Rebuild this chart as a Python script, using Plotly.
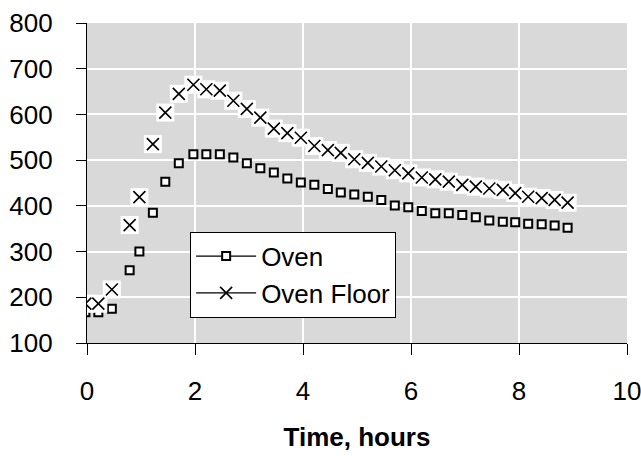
import plotly.graph_objects as go

time_h = [-0.03, 0.21, 0.46, 0.79, 0.97, 1.22, 1.45, 1.70, 1.97, 2.21, 2.46, 2.71,
          2.96, 3.21, 3.46, 3.71, 3.96, 4.21, 4.46, 4.70, 4.95, 5.20, 5.45, 5.70,
          5.95, 6.20, 6.45, 6.70, 6.95, 7.20, 7.45, 7.70, 7.93, 8.17, 8.42, 8.66, 8.90]

oven = [167, 167, 175, 259, 300, 385, 453, 493, 513, 513, 513, 506, 493, 482, 473,
        460, 451, 446, 437, 429, 425, 420, 413, 401, 397, 389, 384, 384, 380, 375,
        368, 365, 364, 361, 360, 357, 352]

oven_floor = [186, 186, 217, 358, 419, 535, 604, 645, 665, 655, 652, 630, 612, 593,
              569, 559, 549, 531, 522, 516, 502, 494, 486, 478, 471, 462, 458, 453,
              446, 442, 438, 435, 428, 420, 417, 413, 407]

x_ticks = [0, 2, 4, 6, 8, 10]
y_ticks = [100, 200, 300, 400, 500, 600, 700, 800]

FONT = "Liberation Sans, Arial, sans-serif"
FS = 26

SQ = dict(symbol="square", size=8, color="white", line=dict(color="black", width=2))
XM = dict(symbol="x-thin", size=12, color="black", line=dict(color="black", width=1.6))

fig = go.Figure()

# plotted marks
fig.add_trace(go.Scatter(x=time_h, y=oven, name="Oven", mode="markers",
                         marker=SQ, showlegend=False))
fig.add_trace(go.Scatter(x=time_h, y=oven_floor, mode="markers", showlegend=False,
                         hoverinfo="skip",
                         marker=dict(symbol="square", size=18, color="white",
                                     line=dict(width=0))))
fig.add_trace(go.Scatter(x=time_h, y=oven_floor, name="Oven Floor", mode="markers",
                         marker=XM, showlegend=False))

# legend entries
fig.add_trace(go.Scatter(x=[None], y=[None], name="Oven", mode="lines+markers",
                         line=dict(color="black", width=1.3), marker=SQ))
fig.add_trace(go.Scatter(x=[None], y=[None], name="Oven Floor", mode="lines+markers",
                         line=dict(color="black", width=1.3), marker=XM))

fig.update_layout(
    width=641, height=456,
    margin=dict(l=87, r=14, t=23, b=113, autoexpand=False),
    paper_bgcolor="white",
    plot_bgcolor="#d9d9d9",
    font=dict(family=FONT, size=FS, color="black"),
    showlegend=True,
    legend=dict(
        x=0.191, y=0.348, xanchor="left", yanchor="top",
        bgcolor="white", bordercolor="black", borderwidth=1,
        font=dict(family=FONT, size=FS, color="black"),
        itemwidth=60, tracegroupgap=0,
    ),
    xaxis=dict(
        range=[0, 10], tickvals=x_ticks, ticktext=[str(v) for v in x_ticks],
        showgrid=True, gridcolor="white", gridwidth=2,
        showline=True, linecolor="black", linewidth=1.3,
        ticks="outside", ticklen=11, tickwidth=1.3, tickcolor="black",
        ticklabelstandoff=14, ticklabeloverflow="allow", automargin=False,
        zeroline=False,
        title=dict(text="<b>Time, hours</b>", font=dict(family=FONT, size=FS),
                   standoff=22),
    ),
    yaxis=dict(
        range=[100, 800], tickvals=y_ticks, ticktext=[str(v) for v in y_ticks],
        showgrid=True, gridcolor="white", gridwidth=2,
        showline=True, linecolor="black", linewidth=1.3,
        ticks="outside", ticklen=10, tickwidth=1.3, tickcolor="black",
        ticklabelstandoff=18, ticklabeloverflow="allow", automargin=False,
        zeroline=False,
    ),
    xaxis2=dict(
        overlaying="x", anchor="y", range=[0, 10], tickvals=x_ticks,
        ticks="inside", ticklen=10, tickwidth=1.3, tickcolor="black",
        showticklabels=False, showgrid=False, showline=False, zeroline=False,
    ),
    yaxis2=dict(
        overlaying="y", anchor="x", range=[100, 800], tickvals=y_ticks,
        ticks="inside", ticklen=10, tickwidth=1.3, tickcolor="black",
        showticklabels=False, showgrid=False, showline=False, zeroline=False,
    ),
)

fig.write_html(
    "out.html",
    config={"displayModeBar": False},
    post_script="document.body.style.margin='0';document.body.style.overflow='hidden';",
)
